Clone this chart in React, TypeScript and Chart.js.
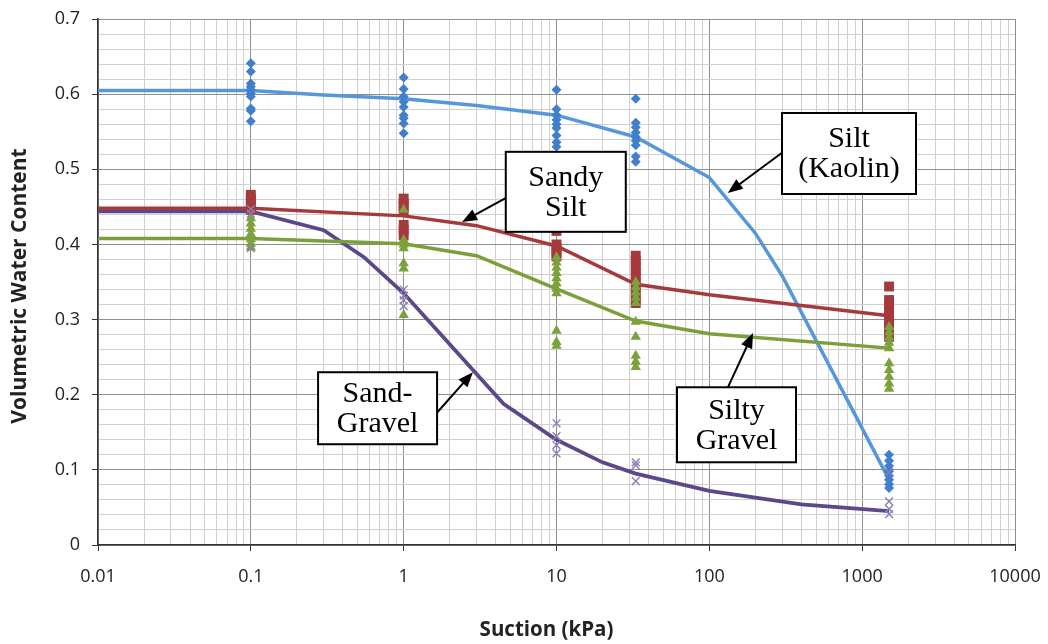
import React, { useEffect, useRef } from "react";
import { Chart, registerables } from "chart.js";

Chart.register(...registerables);

// ---------- DATA ----------
const SUCTIONS = [0.1, 1, 10, 33, 1500];

// measured volumetric water contents at each suction (kPa)
const KAOLIN_MEASURED = [
  [0.641, 0.63, 0.614, 0.61, 0.606, 0.601, 0.597, 0.581, 0.578, 0.564],
  [0.622, 0.607, 0.597, 0.59, 0.583, 0.572, 0.568, 0.561, 0.548],
  [0.606, 0.58, 0.572, 0.566, 0.56, 0.555, 0.545, 0.536, 0.53],
  [0.594, 0.562, 0.556, 0.549, 0.543, 0.538, 0.532, 0.517, 0.51],
  [0.12, 0.112, 0.105, 0.098, 0.092, 0.087, 0.081, 0.076],
];
const SANDY_SILT_MEASURED = [
  [0.466, 0.461, 0.456, 0.451, 0.446],
  [0.461, 0.455, 0.45, 0.444, 0.426, 0.419, 0.412],
  [0.418, 0.4, 0.395, 0.389, 0.384],
  [0.385, 0.378, 0.371, 0.364, 0.357, 0.35, 0.343, 0.336, 0.328, 0.322],
  [0.344, 0.326, 0.319, 0.312, 0.305, 0.298, 0.291, 0.284, 0.277],
];
const SILTY_GRAVEL_MEASURED = [
  [0.435, 0.428, 0.421, 0.414, 0.407, 0.401, 0.396],
  [0.446, 0.406, 0.4, 0.395, 0.375, 0.368, 0.306],
  [0.383, 0.376, 0.369, 0.362, 0.355, 0.348, 0.341, 0.335, 0.285, 0.27, 0.265],
  [0.35, 0.343, 0.336, 0.329, 0.322, 0.297, 0.277, 0.252, 0.244, 0.237],
  [0.29, 0.283, 0.276, 0.269, 0.262, 0.242, 0.233, 0.224, 0.215, 0.208],
];
const SAND_GRAVEL_MEASURED = [
  [0.447, 0.441, 0.395],
  [0.34, 0.332, 0.326, 0.318],
  [0.162, 0.145, 0.133, 0.122],
  [0.11, 0.106, 0.085],
  [0.097, 0.058, 0.048, 0.041],
];

// fitted curves
const KAOLIN_CURVE_X = [0.01, 0.1, 0.3, 1, 3, 10, 33, 100, 200, 300, 1500];
const KAOLIN_CURVE_Y = [0.605, 0.605, 0.599, 0.594, 0.585, 0.572, 0.543, 0.489, 0.415, 0.358, 0.087];
const SANDY_SILT_CURVE_X = [0.01, 0.1, 1, 3, 10, 33, 100, 1500];
const SANDY_SILT_CURVE_Y = [0.448, 0.448, 0.438, 0.425, 0.398, 0.347, 0.333, 0.305];
const SILTY_GRAVEL_CURVE_X = [0.01, 0.1, 1, 3, 10, 33, 100, 1500];
const SILTY_GRAVEL_CURVE_Y = [0.408, 0.408, 0.401, 0.385, 0.341, 0.298, 0.281, 0.262];
const SAND_GRAVEL_CURVE_X = [0.01, 0.1, 0.3, 0.55, 1, 4.5, 10, 20, 33, 100, 400, 1500];
const SAND_GRAVEL_CURVE_Y = [0.444, 0.444, 0.419, 0.383, 0.335, 0.188, 0.14, 0.11, 0.095, 0.072, 0.054, 0.045];

// axes
const X_DECADES = [0.01, 0.1, 1, 10, 100, 1000, 10000];
const X_TICK_LABELS = ["0.01", "0.1", "1", "10", "100", "1000", "10000"];
const X_MINOR_MULTIPLIERS = [2, 3, 4, 5, 6, 7, 8, 9];
const Y_MAJOR = [0, 0.1, 0.2, 0.3, 0.4, 0.5, 0.6, 0.7];
const Y_TICK_LABELS = ["0", "0.1", "0.2", "0.3", "0.4", "0.5", "0.6", "0.7"];
const Y_MINOR_PER_MAJOR = 5;

const X_TITLE = "Suction (kPa)";
const Y_TITLE = "Volumetric Water Content";

// text boxes with arrows (positions in data units)
const ANNOTATIONS = [
  { lines: ["Sandy", "Silt"], cx: 11.5, cy: 0.47, w: 120, h: 80, tailX: 4.68, tailY: 0.462, headX: 2.41, headY: 0.43 },
  { lines: ["Silt", "(Kaolin)"], cx: 820, cy: 0.521, w: 134, h: 81, tailX: 299, tailY: 0.522, headX: 132, headY: 0.4685 },
  { lines: ["Sand-", "Gravel"], cx: 0.675, cy: 0.182, w: 119, h: 72, tailX: 1.65, tailY: 0.176, headX: 2.84, headY: 0.23 },
  { lines: ["Silty", "Gravel"], cx: 150.6, cy: 0.16, w: 119, h: 75, tailX: 132.5, tailY: 0.21, headX: 193, headY: 0.282 },
];

// ---------- helpers ----------
const toPoints = (measured: number[][]) =>
  measured.flatMap((vals, i) => vals.map((v) => ({ x: SUCTIONS[i], y: v })));
const toCurve = (xs: number[], ys: number[]) => xs.map((x, i) => ({ x, y: ys[i] }));

const xTickValues: number[] = [];
X_DECADES.forEach((d, i) => {
  xTickValues.push(d);
  if (i < X_DECADES.length - 1) X_MINOR_MULTIPLIERS.forEach((m) => xTickValues.push(+(d * m).toPrecision(6)));
});
const yTickValues: number[] = [];
Y_MAJOR.forEach((v, i) => {
  yTickValues.push(v);
  if (i < Y_MAJOR.length - 1)
    for (let k = 1; k < Y_MINOR_PER_MAJOR; k++) yTickValues.push(+(v + (k * (Y_MAJOR[i + 1] - v)) / Y_MINOR_PER_MAJOR).toFixed(4));
});
const isXMajor = (v: number) => X_DECADES.some((d) => Math.abs(d - v) / d < 1e-6);
const isYMajor = (v: number) => Y_MAJOR.some((d) => Math.abs(d - v) < 1e-6);

const BLUE_LINE = "#5597da";
const BLUE_MARK = "#3f7fcb";
const RED = "#a6393b";
const GREEN_LINE = "#7aa03a";
const GREEN_MARK = "#7ba23c";
const PURPLE_LINE = "#5c4888";
const PURPLE_MARK = "#8a7db4";
const MAJOR_GRID = "#8e8e8e";
const MINOR_GRID = "#d0d0d0";
const TICK_FONT = { family: "'Open Sans', sans-serif", size: 18 };

const overlayPlugin = {
  id: "overlay",
  afterDatasetsDraw(chart: any) {
    const { ctx, scales, chartArea } = chart;
    const xs = scales.x;
    const ys = scales.y;
    ctx.save();
    ANNOTATIONS.forEach((a) => {
      const tx = xs.getPixelForValue(a.tailX);
      const ty = ys.getPixelForValue(a.tailY);
      const hx = xs.getPixelForValue(a.headX);
      const hy = ys.getPixelForValue(a.headY);
      const ang = Math.atan2(hy - ty, hx - tx);
      const headLen = 15;
      const headHalf = 6;
      ctx.strokeStyle = "#000";
      ctx.fillStyle = "#000";
      ctx.lineWidth = 2;
      ctx.beginPath();
      ctx.moveTo(tx, ty);
      ctx.lineTo(hx - Math.cos(ang) * headLen * 0.8, hy - Math.sin(ang) * headLen * 0.8);
      ctx.stroke();
      const bx = hx - Math.cos(ang) * headLen;
      const by = hy - Math.sin(ang) * headLen;
      ctx.beginPath();
      ctx.moveTo(hx, hy);
      ctx.lineTo(bx + Math.sin(ang) * headHalf, by - Math.cos(ang) * headHalf);
      ctx.lineTo(bx - Math.sin(ang) * headHalf, by + Math.cos(ang) * headHalf);
      ctx.closePath();
      ctx.fill();

      const cx = xs.getPixelForValue(a.cx);
      const cy = ys.getPixelForValue(a.cy);
      ctx.fillStyle = "#fff";
      ctx.fillRect(cx - a.w / 2, cy - a.h / 2, a.w, a.h);
      ctx.lineWidth = 2;
      ctx.strokeStyle = "#000";
      ctx.strokeRect(cx - a.w / 2, cy - a.h / 2, a.w, a.h);
      ctx.fillStyle = "#000";
      ctx.font = "30px 'Liberation Serif', 'Times New Roman', serif";
      ctx.textAlign = "center";
      ctx.textBaseline = "middle";
      const lh = 30;
      a.lines.forEach((t, i) => {
        ctx.fillText(t, cx, cy + (i - (a.lines.length - 1) / 2) * lh + 1);
      });
    });

    // axis titles
    ctx.fillStyle = "#222";
    ctx.textAlign = "center";
    ctx.textBaseline = "middle";
    ctx.font = "bold 20.5px 'Open Sans', sans-serif";
    ctx.fillText(X_TITLE, (chartArea.left + chartArea.right) / 2 - 10, 630);
    ctx.font = "bold 21px 'Open Sans', sans-serif";
    ctx.translate(20, (chartArea.top + chartArea.bottom) / 2 + 4);
    ctx.rotate(-Math.PI / 2);
    ctx.fillText(Y_TITLE, 0, 0);
    ctx.restore();
  },
};

export default function App() {
  const canvasRef = useRef<HTMLCanvasElement | null>(null);

  useEffect(() => {
    const canvas = canvasRef.current;
    if (!canvas) return;
    const chart = new Chart(canvas, {
      type: "scatter",
      data: {
        datasets: [
          {
            label: "Sand-Gravel data",
            data: toPoints(SAND_GRAVEL_MEASURED),
            pointStyle: "crossRot",
            pointRadius: 5.5,
            borderColor: PURPLE_MARK,
            pointBorderColor: PURPLE_MARK,
            pointBorderWidth: 1.4,
            showLine: false,
          },
          {
            label: "Silty Gravel data",
            data: toPoints(SILTY_GRAVEL_MEASURED),
            pointStyle: "triangle",
            pointRadius: 6,
            pointBackgroundColor: GREEN_MARK,
            pointBorderColor: GREEN_MARK,
            pointBorderWidth: 0,
            showLine: false,
          },
          {
            label: "Sandy Silt data",
            data: toPoints(SANDY_SILT_MEASURED),
            pointStyle: "rect",
            pointRadius: 7,
            pointBackgroundColor: RED,
            pointBorderColor: RED,
            pointBorderWidth: 0,
            showLine: false,
          },
          {
            label: "Silt (Kaolin) data",
            data: toPoints(KAOLIN_MEASURED),
            pointStyle: "rectRot",
            pointRadius: 5,
            pointBackgroundColor: BLUE_MARK,
            pointBorderColor: BLUE_MARK,
            pointBorderWidth: 0,
            showLine: false,
          },
          {
            label: "Sandy Silt fit",
            data: toCurve(SANDY_SILT_CURVE_X, SANDY_SILT_CURVE_Y),
            showLine: true,
            borderColor: RED,
            borderWidth: 3.5,
            pointRadius: 0,
            tension: 0,
          },
          {
            label: "Silty Gravel fit",
            data: toCurve(SILTY_GRAVEL_CURVE_X, SILTY_GRAVEL_CURVE_Y),
            showLine: true,
            borderColor: GREEN_LINE,
            borderWidth: 3.5,
            pointRadius: 0,
            tension: 0,
          },
          {
            label: "Silt (Kaolin) fit",
            data: toCurve(KAOLIN_CURVE_X, KAOLIN_CURVE_Y),
            showLine: true,
            borderColor: BLUE_LINE,
            borderWidth: 3.5,
            pointRadius: 0,
            tension: 0,
          },
          {
            label: "Sand-Gravel fit",
            data: toCurve(SAND_GRAVEL_CURVE_X, SAND_GRAVEL_CURVE_Y),
            showLine: true,
            borderColor: PURPLE_LINE,
            borderWidth: 3.8,
            pointRadius: 0,
            tension: 0,
          },
        ],
      },
      options: {
        animation: false,
        responsive: false,
        events: [],
        layout: { padding: { top: 19, right: 33, left: 0, bottom: 0 } },
        plugins: { legend: { display: false }, tooltip: { enabled: false } },
        scales: {
          x: {
            type: "logarithmic",
            min: 0.01,
            max: 10000,
            afterBuildTicks: (scale: any) => {
              scale.ticks = xTickValues.map((v) => ({ value: v, major: isXMajor(v) }));
            },
            afterFit: (scale: any) => {
              scale.height = 99;
              scale.paddingLeft = 0;
              scale.paddingRight = 0;
            },
            ticks: {
              autoSkip: false,
              maxRotation: 0,
              minRotation: 0,
              padding: 15,
              color: "#222",
              font: TICK_FONT,
              callback: (value: any) => {
                const idx = X_DECADES.findIndex((d) => Math.abs(d - value) / d < 1e-6);
                return idx >= 0 ? X_TICK_LABELS[idx] : "";
              },
            },
            grid: {
              color: (c: any) => (c.tick && isXMajor(c.tick.value) ? MAJOR_GRID : MINOR_GRID),
              tickColor: (c: any) => (c.tick && isXMajor(c.tick.value) ? "#333" : "rgba(0,0,0,0)"),
              lineWidth: 1,
              tickLength: 6,
            },
            border: { color: "#333", width: 1.5 },
          },
          y: {
            type: "linear",
            min: 0,
            max: 0.7,
            afterBuildTicks: (scale: any) => {
              scale.ticks = yTickValues.map((v) => ({ value: v, major: isYMajor(v) }));
            },
            afterFit: (scale: any) => {
              scale.width = 98;
              scale.paddingTop = 0;
              scale.paddingBottom = 0;
            },
            ticks: {
              autoSkip: false,
              padding: 12,
              color: "#222",
              font: TICK_FONT,
              callback: (value: any) => {
                const idx = Y_MAJOR.findIndex((d) => Math.abs(d - value) < 1e-6);
                return idx >= 0 ? Y_TICK_LABELS[idx] : "";
              },
            },
            grid: {
              color: (c: any) => (c.tick && isYMajor(c.tick.value) ? MAJOR_GRID : MINOR_GRID),
              tickColor: (c: any) => (c.tick && isYMajor(c.tick.value) ? "#333" : "rgba(0,0,0,0)"),
              lineWidth: 1,
              tickLength: 6,
            },
            border: { color: "#333", width: 1.5 },
          },
        },
      },
      plugins: [overlayPlugin],
    });
    return () => chart.destroy();
  }, []);

  return (
    <div style={{ position: "absolute", left: 0, top: 0, width: 1048, height: 644, background: "#fff" }}>
      <canvas ref={canvasRef} width={1048} height={644} style={{ display: "block" }} />
    </div>
  );
}
